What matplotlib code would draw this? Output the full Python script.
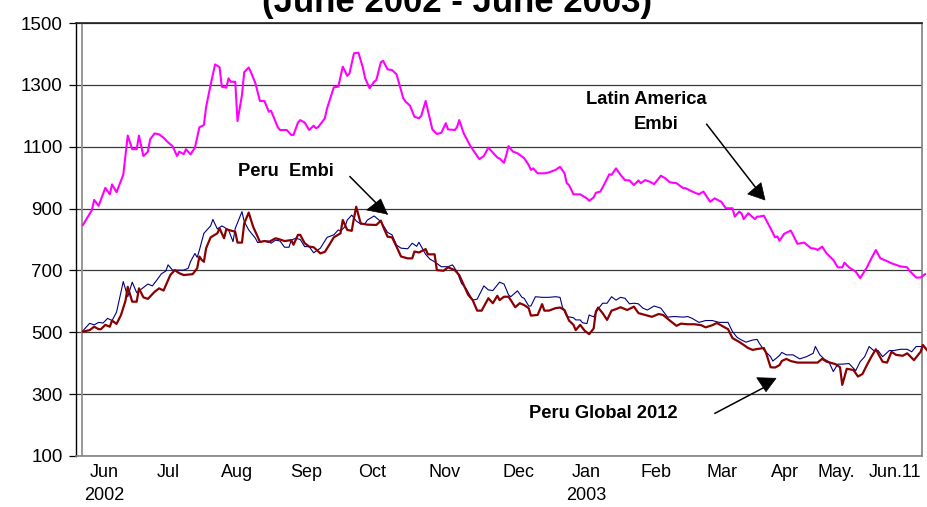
import matplotlib
matplotlib.use("Agg")
import matplotlib.pyplot as plt
from matplotlib.lines import Line2D
from matplotlib.patches import Polygon

plt.rcParams['font.family'] = ['Liberation Sans', 'DejaVu Sans']

# ---------------- data (days from start of series ~ 1 Jun 2002) ----------------
latam_days = [0, 4, 5, 7, 10, 12, 13, 15, 18, 20, 22, 24, 25, 27, 29, 30, 32, 34, 36, 38,
              40, 42, 43, 45, 46, 48, 50, 52, 54, 55, 57, 59, 61, 62, 64, 65, 66, 68, 69, 71,
              72, 74, 75, 77, 79, 81, 83, 84, 87, 88, 91, 93, 94, 96, 97, 99, 101, 103, 104, 105,
              108, 109, 112, 114, 116, 118, 119, 121, 123, 125, 126, 128, 130, 131, 133, 134, 136, 138, 140, 143,
              144, 146, 148, 150, 151, 153, 156, 158, 160, 162, 163, 166, 167, 168, 170, 173, 176, 177, 179, 181,
              183, 185, 186, 188, 189, 190, 192, 194, 197, 199, 200, 201, 203, 206, 208, 211, 213, 215, 216, 217,
              219, 222, 225, 226, 228, 229, 231, 233, 235, 236, 238, 240, 242, 244, 246, 248, 249, 251, 253, 255,
              258, 260, 262, 265, 268, 269, 272, 275, 277, 280, 282, 285, 287, 290, 291, 293, 294, 295, 297, 300,
              301, 302, 304, 307, 309, 310, 311, 313, 316, 317, 319, 322, 325, 327, 328, 330, 332, 335, 337, 339,
              340, 342, 345, 347, 350, 352, 354, 356, 359, 361, 363, 365, 368, 369, 372, 374, 376]
latam_vals = [847, 895, 928, 909, 967, 946, 978, 953, 1009, 1136, 1092, 1092, 1136, 1070, 1084, 1124, 1143, 1140, 1129, 1114,
              1102, 1070, 1084, 1076, 1092, 1075, 1097, 1163, 1170, 1229, 1300, 1366, 1357, 1294, 1291, 1321, 1310, 1310, 1183, 1267,
              1341, 1356, 1341, 1305, 1248, 1248, 1213, 1216, 1163, 1154, 1154, 1138, 1138, 1178, 1186, 1178, 1154, 1168, 1160, 1163,
              1192, 1224, 1292, 1294, 1359, 1329, 1337, 1402, 1404, 1355, 1321, 1289, 1310, 1316, 1373, 1378, 1350, 1348, 1334, 1257,
              1246, 1233, 1197, 1192, 1199, 1248, 1156, 1141, 1145, 1176, 1156, 1154, 1163, 1186, 1143, 1102, 1070, 1060, 1070, 1097,
              1081, 1065, 1062, 1048, 1073, 1102, 1084, 1079, 1063, 1041, 1025, 1030, 1014, 1014, 1017, 1025, 1035, 1014, 982, 976,
              946, 946, 933, 925, 936, 951, 955, 982, 1011, 1009, 1030, 1009, 992, 991, 976, 991, 982, 992, 987, 979,
              1006, 998, 985, 982, 966, 966, 955, 946, 955, 922, 933, 922, 901, 901, 874, 890, 885, 866, 885, 866,
              874, 874, 877, 836, 807, 810, 796, 818, 829, 815, 786, 790, 772, 770, 766, 777, 755, 734, 710, 710,
              725, 710, 696, 675, 710, 739, 766, 739, 730, 723, 718, 713, 710, 699, 677, 677, 688]

embi_days = [0, 3, 5, 7, 9, 11, 13, 15, 18, 20, 22, 24, 27, 29, 31, 33, 35, 37, 38, 40,
             42, 45, 47, 48, 50, 51, 52, 54, 57, 58, 60, 62, 63, 65, 67, 68, 71, 72, 74, 77,
             78, 81, 83, 84, 86, 88, 90, 92, 93, 95, 97, 99, 101, 103, 106, 109, 112, 114, 115, 117,
             118, 120, 122, 124, 126, 127, 130, 133, 136, 138, 140, 142, 145, 147, 149, 150, 153, 155, 157, 160,
             163, 165, 167, 169, 171, 174, 176, 179, 181, 183, 186, 188, 190, 191, 194, 196, 197, 199, 200, 202,
             205, 208, 211, 213, 214, 216, 219, 220, 222, 223, 225, 226, 228, 230, 232, 234, 236, 238, 240, 242,
             244, 246, 248, 250, 252, 255, 258, 261, 264, 268, 270, 272, 275, 278, 281, 284, 288, 290, 292, 294,
             296, 299, 301, 302, 304, 307, 308, 310, 311, 312, 314, 317, 320, 323, 326, 327, 329, 331, 333, 335,
             337, 339, 342, 345, 347, 349, 351, 353, 355, 357, 360, 362, 365, 368, 370, 372, 374]
embi_vals = [505, 529, 524, 532, 530, 545, 538, 565, 664, 615, 662, 628, 645, 656, 650, 669, 689, 698, 718, 701,
             701, 701, 707, 728, 755, 742, 766, 820, 844, 865, 834, 844, 840, 831, 793, 836, 890, 858, 831, 804,
             790, 795, 795, 788, 798, 795, 775, 775, 798, 804, 800, 777, 777, 757, 772, 807, 815, 831, 828, 841,
             863, 879, 860, 850, 852, 863, 876, 858, 823, 815, 782, 772, 770, 788, 778, 791, 752, 736, 728, 712,
             712, 718, 696, 658, 642, 604, 607, 650, 637, 635, 662, 656, 621, 615, 634, 613, 610, 585, 585, 615,
             613, 613, 615, 613, 583, 551, 547, 540, 540, 531, 528, 556, 550, 575, 594, 594, 615, 604, 613, 610,
             592, 594, 592, 578, 572, 585, 578, 549, 551, 549, 551, 545, 532, 538, 538, 532, 532, 502, 484, 475,
             468, 475, 477, 464, 443, 421, 407, 419, 425, 435, 427, 427, 414, 421, 432, 454, 427, 413, 405, 373,
             397, 397, 399, 376, 405, 421, 454, 441, 441, 421, 441, 441, 445, 445, 437, 454, 454]

glob_days = [0, 3, 5, 7, 8, 10, 12, 13, 15, 17, 19, 20, 22, 24, 25, 27, 29, 32, 34, 36,
             39, 41, 43, 45, 49, 51, 52, 53, 54, 55, 57, 60, 61, 63, 64, 66, 68, 69, 71, 72,
             74, 76, 78, 79, 81, 83, 86, 88, 90, 93, 94, 96, 97, 99, 101, 103, 106, 108, 110, 112,
             115, 116, 118, 120, 121, 122, 124, 127, 131, 133, 134, 136, 138, 140, 142, 145, 147, 148, 150, 153,
             154, 157, 158, 161, 163, 166, 168, 170, 172, 174, 176, 178, 181, 183, 185, 186, 188, 190, 191, 193,
             195, 197, 199, 200, 203, 205, 206, 208, 211, 213, 215, 217, 219, 220, 222, 224, 226, 228, 229, 230,
             232, 234, 236, 238, 240, 243, 246, 248, 251, 254, 257, 259, 262, 265, 267, 270, 273, 276, 278, 281,
             283, 286, 288, 290, 293, 295, 297, 299, 301, 304, 305, 307, 309, 311, 312, 314, 316, 319, 322, 325,
             328, 330, 332, 336, 338, 339, 341, 344, 346, 348, 350, 352, 354, 357, 359, 361, 363, 366, 368, 371,
             374, 375, 377]
glob_vals = [502, 507, 518, 510, 510, 524, 518, 538, 527, 556, 602, 647, 599, 599, 642, 613, 608, 631, 642, 635,
             685, 701, 691, 685, 688, 707, 745, 734, 728, 772, 807, 820, 836, 804, 833, 829, 825, 790, 790, 852,
             887, 841, 809, 792, 795, 792, 804, 800, 795, 798, 783, 815, 815, 788, 777, 775, 755, 760, 783, 807,
             820, 863, 831, 828, 869, 906, 852, 848, 847, 861, 842, 809, 807, 777, 745, 739, 739, 761, 758, 769,
             752, 752, 701, 699, 710, 701, 685, 653, 621, 604, 570, 570, 610, 594, 618, 604, 615, 615, 604, 581,
             594, 588, 578, 554, 556, 591, 570, 570, 578, 580, 572, 538, 524, 507, 524, 505, 494, 512, 567, 580,
             562, 540, 570, 575, 581, 572, 583, 562, 556, 550, 559, 556, 538, 521, 528, 526, 526, 523, 516, 523,
             530, 518, 510, 481, 469, 459, 449, 443, 446, 449, 433, 387, 386, 394, 407, 414, 407, 402, 402, 402,
             402, 414, 405, 397, 387, 330, 382, 378, 357, 365, 394, 421, 445, 405, 402, 437, 427, 424, 432, 410,
             437, 459, 441]

month_labels = ['Jun\n2002', 'Jul', 'Aug', 'Sep', 'Oct', 'Nov', 'Dec', 'Jan\n2003', 'Feb', 'Mar',
                'Apr', 'May.', 'Jun.11']
month_pos = [9.6, 38, 68.8, 99.6, 129, 161.6, 194.6, 224.5, 256, 285.5, 313.5, 336.5, 362.5]
y_ticks = [100, 300, 500, 700, 900, 1100, 1300, 1500]

W, H = 928, 507
fig = plt.figure(figsize=(W / 100, H / 100), dpi=100)
ax = fig.add_axes([76 / W, 1 - 456 / H, 846 / W, 433 / H])


def fp(x, y):
    return (x / W, 1 - y / H)


ax.plot(latam_days, latam_vals, color='#FF00FF', lw=1.5, clip_on=False, zorder=3)
ax.plot(embi_days, embi_vals, color='#000080', lw=0.8, clip_on=False, zorder=3)
ax.plot(glob_days, glob_vals, color='#8B0000', lw=1.6, clip_on=False, zorder=4)

ax.set_xlim(-3.1, 374.6)
ax.set_ylim(100, 1500)
ax.set_yticks(y_ticks)
ax.set_xticks(month_pos)
ax.set_xticklabels(month_labels)
for t in ax.get_xticklabels():
    t.set_linespacing(1.45)
    t.set_verticalalignment('top')

ax.tick_params(axis='y', direction='out', length=5, width=0.9, color='black',
               labelsize=13.5, pad=4.5)
ax.tick_params(axis='x', length=0, labelsize=13, pad=6)
ax.yaxis.grid(True, color='#3a3a3a', lw=0.9)
ax.set_axisbelow(True)

ax.spines['left'].set_color('black')
ax.spines['left'].set_linewidth(1.0)
for s in ['top', 'right', 'bottom']:
    ax.spines[s].set_color('#808080')
    ax.spines[s].set_linewidth(1.2)
ax.spines['top'].set_color('#202020')

# inner plot-area border (Excel style)
ax.add_line(Line2D([5.7 / 846, 5.7 / 846], [0, 1], transform=ax.transAxes,
                   color='#909090', lw=1.3, zorder=2))

# title (partially cut off at top, as in the original)
fig.text(457 / W, 1 - 12 / H, '(June 2002 - June 2003)', ha='center', va='baseline',
         fontsize=25, fontweight='bold')

# annotations
fs = 13.2
fig.text(*fp(286, 172), 'Peru  Embi', ha='center', va='center', fontsize=fs, fontweight='bold')
fig.text(*fp(646, 99.5), 'Latin America', ha='center', va='center', fontsize=fs, fontweight='bold')
fig.text(*fp(656, 124.5), 'Embi', ha='center', va='center', fontsize=fs, fontweight='bold')
fig.text(*fp(603, 413), 'Peru Global 2012', ha='center', va='center', fontsize=fs, fontweight='bold')

arrows = [
    ((350, 176.7), (387, 214), [(366.7, 210), (380.7, 199), (387.3, 214)]),
    ((706.7, 124.3), (763, 197), [(747.7, 194), (761, 182.7), (765, 200)]),
    ((715, 413.3), (763, 388), [(756.7, 377.7), (776, 378.3), (766, 391.7)]),
]
for (x0, y0), (x1, y1), tri in arrows:
    fig.add_artist(Line2D([x0 / W, x1 / W], [1 - y0 / H, 1 - y1 / H],
                          transform=fig.transFigure, color='black', lw=1.1))
    fig.add_artist(Polygon([fp(a, b) for a, b in tri], closed=True,
                           transform=fig.transFigure, facecolor='black', edgecolor='black', lw=0.5))

fig.savefig('out.png', dpi=100)
